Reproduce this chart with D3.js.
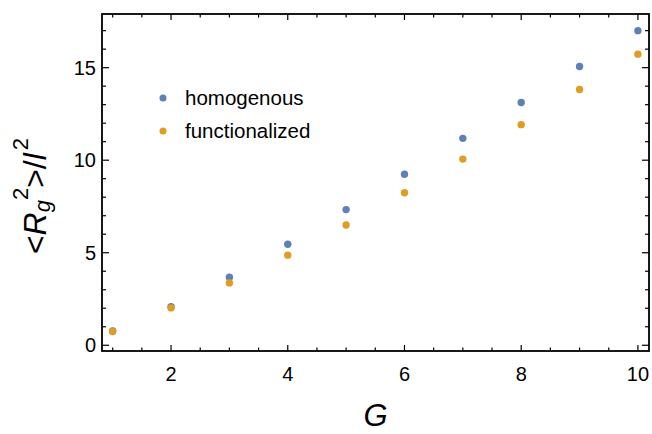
<!DOCTYPE html>
<html>
<head>
<meta charset="utf-8">
<script src="https://cdn.jsdelivr.net/npm/d3@7"></script>
<style>
  body { margin: 0; background: #fff; }
  svg { display: block; font-family: "Liberation Sans", Arial, sans-serif; }
</style>
</head>
<body>
<div id="chart"></div>
<script>
// data
const G = [1, 2, 3, 4, 5, 6, 7, 8, 9, 10];
const homogenous = [0.78, 2.08, 3.68, 5.46, 7.33, 9.24, 11.18, 13.12, 15.06, 17.0];
const functionalized = [0.74, 2.02, 3.37, 4.87, 6.50, 8.24, 10.06, 11.92, 13.82, 15.73];
const seriesNames = ["homogenous", "functionalized"];
const xTicks = [2, 4, 6, 8, 10];
const yTicks = [0, 5, 10, 15];

const width = 652, height = 434;
const margin = { top: 14, right: 3, bottom: 83, left: 102 };
const colors = ["#5E81B5", "#E19C24"];

const x = d3.scaleLinear().domain([0.817, 10.19]).range([margin.left, width - margin.right]);
const y = d3.scaleLinear().domain([-0.31, 17.9]).range([height - margin.bottom, margin.top]);

const svg = d3.select("#chart").append("svg")
  .attr("width", width)
  .attr("height", height);

const x0 = margin.left, x1 = width - margin.right;
const y0 = height - margin.bottom, y1 = margin.top;

// ticks: minor + major, on all four sides, pointing inward
const xMinor = d3.range(1, 10.01, 0.5).filter(v => !xTicks.includes(v));
const yMinor = d3.range(0, 17.01, 1).filter(v => !yTicks.includes(v));
const tickG = svg.append("g").attr("stroke", "#000").attr("stroke-width", 1.2);

function xTickMarks(vals, len) {
  vals.forEach(v => {
    tickG.append("line").attr("x1", x(v)).attr("x2", x(v)).attr("y1", y0).attr("y2", y0 - len);
    tickG.append("line").attr("x1", x(v)).attr("x2", x(v)).attr("y1", y1).attr("y2", y1 + len);
  });
}
function yTickMarks(vals, len) {
  vals.forEach(v => {
    tickG.append("line").attr("y1", y(v)).attr("y2", y(v)).attr("x1", x0).attr("x2", x0 + len);
    tickG.append("line").attr("y1", y(v)).attr("y2", y(v)).attr("x1", x1).attr("x2", x1 - len);
  });
}
xTickMarks(xTicks, 6);
xTickMarks(xMinor, 3.5);
yTickMarks(yTicks, 7);
yTickMarks(yMinor, 4);

// frame
svg.append("rect")
  .attr("x", x0).attr("y", y1)
  .attr("width", x1 - x0).attr("height", y0 - y1)
  .attr("fill", "none").attr("stroke", "#000").attr("stroke-width", 1.8);

// tick labels
svg.append("g").selectAll("text").data(xTicks).join("text")
  .attr("x", d => x(d)).attr("y", y0 + 30)
  .attr("text-anchor", "middle")
  .attr("font-size", 20)
  .text(d => d);

svg.append("g").selectAll("text").data(yTicks).join("text")
  .attr("x", x0 - 6).attr("y", d => y(d) + 7)
  .attr("text-anchor", "end")
  .attr("font-size", 20)
  .text(d => d);

// points
[homogenous, functionalized].forEach((vals, i) => {
  svg.append("g").selectAll("circle").data(G).join("circle")
    .attr("cx", d => x(d))
    .attr("cy", (d, j) => y(vals[j]))
    .attr("r", 3.7)
    .attr("fill", colors[i]);
});

// legend
const legend = svg.append("g");
seriesNames.forEach((name, i) => {
  const ly = 98 + i * 33;
  legend.append("circle").attr("cx", 163).attr("cy", ly).attr("r", 3.5).attr("fill", colors[i]);
  legend.append("text").attr("x", 185).attr("y", ly + 7)
    .attr("font-size", 20.5).text(name);
});

// axis labels
svg.append("text")
  .attr("x", x((0.817 + 10.19) / 2)).attr("y", 426)
  .attr("text-anchor", "middle")
  .attr("font-size", 31)
  .attr("font-style", "italic")
  .text("G");

const yl = svg.append("text")
  .attr("transform", `translate(46,196) rotate(-90)`)
  .attr("text-anchor", "middle")
  .attr("font-size", 32);
yl.append("tspan").text("<");
yl.append("tspan").attr("font-style", "italic").text("R");
yl.append("tspan").attr("font-style", "italic").attr("font-size", 22).attr("dy", 4).text("g");
yl.append("tspan").attr("font-size", 22).attr("dy", -22).text("2");
yl.append("tspan").attr("dy", 18).text(">/");
yl.append("tspan").attr("font-style", "italic").text("l");
yl.append("tspan").attr("font-size", 22).attr("dy", -18).attr("dx", 3).text("2");
</script>
</body>
</html>
